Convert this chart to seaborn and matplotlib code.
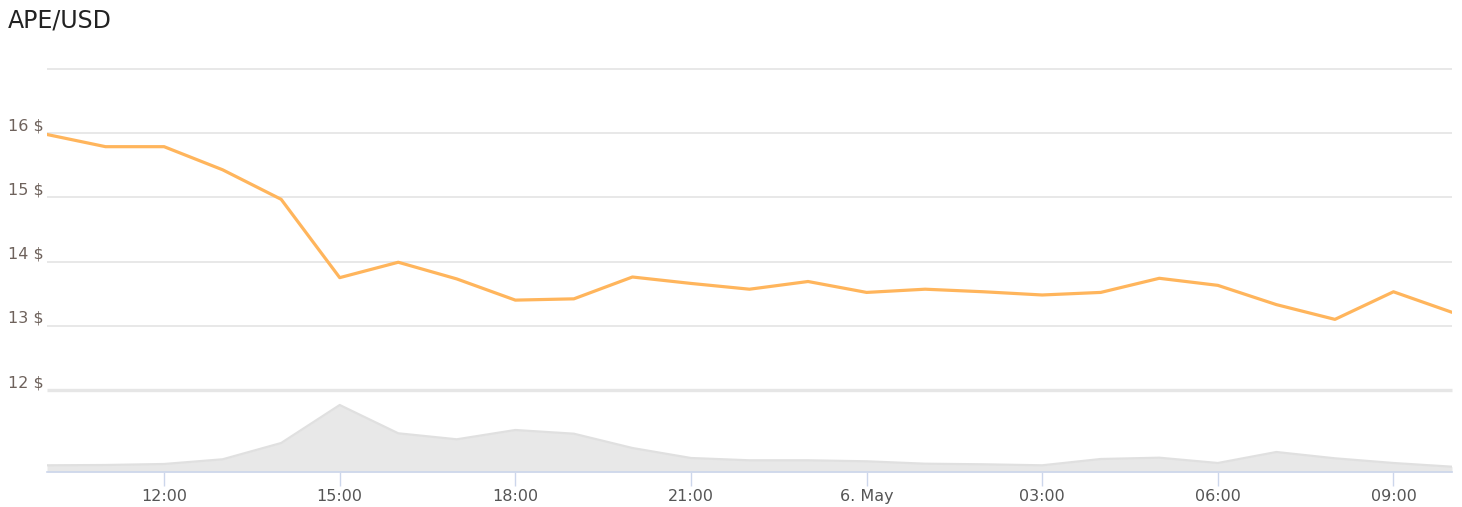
#
# APE/USD price with volume pane
#

import matplotlib.pyplot as plt
import seaborn as sns
import pandas as pd

# hourly samples, 5 May 10:00 -> 6 May 10:00
hours = pd.date_range('2022-05-05 10:00', '2022-05-06 10:00', freq='h')

price = [15.98, 15.79, 15.79, 15.43, 14.97, 13.75, 13.99, 13.73, 13.40, 13.42,
         13.76, 13.66, 13.57, 13.69, 13.52, 13.57, 13.53, 13.48, 13.52, 13.74,
         13.63, 13.33, 13.10, 13.53, 13.21]

# volume, arbitrary units (read as height in the lower pane)
volume = [6.7, 7.0, 8.0, 12.7, 29.0, 67.0, 38.7, 32.7, 42.0, 38.3,
          24.0, 14.0, 11.7, 11.7, 10.7, 8.3, 7.7, 6.7, 13.0, 14.3,
          9.0, 20.0, 13.7, 9.0, 5.3]

price_ticks = [12, 13, 14, 15, 16, 17]
price_labels = ['12 $', '13 $', '14 $', '15 $', '16 $', '']

time_ticks = pd.to_datetime(['2022-05-05 12:00', '2022-05-05 15:00', '2022-05-05 18:00',
                             '2022-05-05 21:00', '2022-05-06 00:00', '2022-05-06 03:00',
                             '2022-05-06 06:00', '2022-05-06 09:00'])
time_labels = ['12:00', '15:00', '18:00', '21:00', '6. May', '03:00', '06:00', '09:00']

df = pd.DataFrame({'time': hours, 'price': price, 'volume': volume})

sns.set_theme(style="white")
plt.rcParams['font.family'] = ['DejaVu Sans']

W, H = 1462, 507
fig = plt.figure(figsize=(W / 100, H / 100), dpi=100)
ax = fig.add_axes([47 / W, 117 / H, 1405 / W, 321 / H])
axv = fig.add_axes([47 / W, 35 / H, 1405 / W, 82 / H], sharex=ax)
axv.set_facecolor('none')

grid_col = '#e6e6e6'

# price line
sns.lineplot(data=df, x='time', y='price', ax=ax, color='#ffb55c', linewidth=2.3, zorder=3)
ax.set_ylim(12, 17)
ax.set_yticks(price_ticks)
ax.set_yticklabels(price_labels)
for y in price_ticks:
    ax.axhline(y, color=grid_col, linewidth=2.4 if y == 12 else 1.3, zorder=0,
               clip_on=False, solid_capstyle='butt')
for s in ax.spines.values():
    s.set_visible(False)
ax.tick_params(axis='y', length=0, pad=28, labelsize=11.5, labelcolor='#6e625c')
for lbl in ax.get_yticklabels():
    lbl.set_horizontalalignment('left')
    lbl.set_verticalalignment('bottom')
ax.tick_params(axis='x', bottom=False, labelbottom=False)
ax.set_xlabel('')
ax.set_ylabel('')

# volume area
axv.fill_between(df['time'], 0, df['volume'], color='#e8e8e8', linewidth=0)
sns.lineplot(data=df, x='time', y='volume', ax=axv, color='#e0e0e0', linewidth=1.6)
axv.set_ylim(0, 82)
axv.set_yticks([])
for k in ['top', 'left', 'right']:
    axv.spines[k].set_visible(False)
axv.spines['bottom'].set_color('#ccd6eb')
axv.spines['bottom'].set_linewidth(1.2)
axv.set_xlim(hours[0], hours[-1])
axv.set_xticks(time_ticks)
axv.set_xticklabels(time_labels)
axv.tick_params(axis='x', bottom=True, length=10, width=1, color='#ccd6eb',
                pad=2, labelsize=11.5, labelcolor='#555555')
axv.set_xlabel('')
axv.set_ylabel('')

fig.text(8 / W, 1 - 20 / H, 'APE/USD', fontsize=17, color='#222222', va='center', ha='left')

plt.savefig('out.png', dpi=100)
